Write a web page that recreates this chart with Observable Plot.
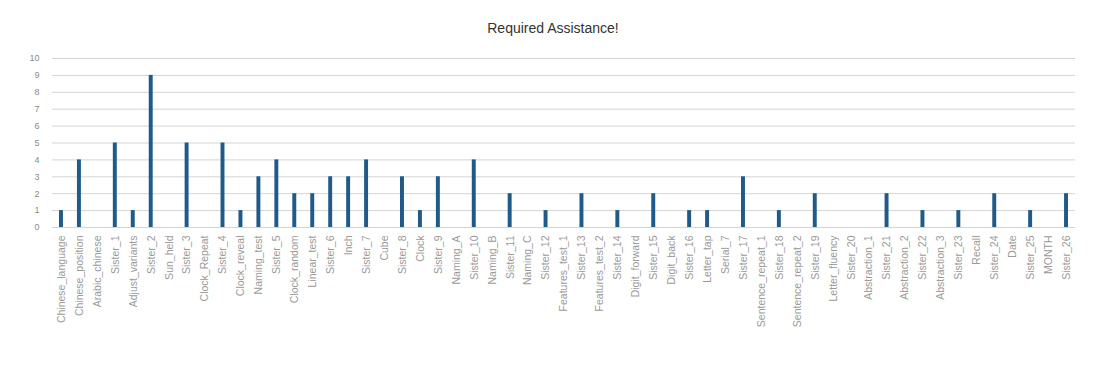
<!DOCTYPE html>
<html>
<head>
<meta charset="utf-8">
<script src="https://cdn.jsdelivr.net/npm/d3@7"></script>
<script src="https://cdn.jsdelivr.net/npm/@observablehq/plot@0.6"></script>
<style>
  body { margin: 0; background: #fff; font-family: "Liberation Sans", Arial, sans-serif; }
  #title { height: 45px; line-height: 56px; text-align: center; font-size: 14px; color: #333; width: 1106px; }
</style>
</head>
<body>
<div id="title">Required Assistance!</div>
<div id="chart"></div>
<script>
const categories = [
  "Chinese_language", "Chinese_position", "Arabic_chinese", "Sister_1", "Adjust_variants",
  "Sister_2", "Sun_held", "Sister_3", "Clock_Repeat", "Sister_4",
  "Clock_reveal", "Naming_test", "Sister_5", "Clock_random", "Linear_test",
  "Sister_6", "Inch", "Sister_7", "Cube", "Sister_8",
  "Clock", "Sister_9", "Naming_A", "Sister_10", "Naming_B",
  "Sister_11", "Naming_C", "Sister_12", "Features_test_1", "Sister_13",
  "Features_test_2", "Sister_14", "Digit_forward", "Sister_15", "Digit_back",
  "Sister_16", "Letter_tap", "Serial_7", "Sister_17", "Sentence_repeat_1",
  "Sister_18", "Sentence_repeat_2", "Sister_19", "Letter_fluency", "Sister_20",
  "Abstraction_1", "Sister_21", "Abstraction_2", "Sister_22", "Abstraction_3",
  "Sister_23", "Recall", "Sister_24", "Date", "Sister_25",
  "MONTH", "Sister_26"
];
const values = [
  1, 4, 0, 5, 1,
  9, 0, 5, 0, 5,
  1, 3, 4, 2, 2,
  3, 3, 4, 0, 3,
  1, 3, 0, 4, 0,
  2, 0, 1, 0, 2,
  0, 1, 0, 2, 0,
  1, 1, 0, 3, 0,
  1, 0, 2, 0, 0,
  0, 2, 0, 1, 0,
  1, 0, 2, 0, 1,
  0, 2
];
const yTicks = [0, 1, 2, 3, 4, 5, 6, 7, 8, 9, 10];

const data = categories.map((c, i) => ({ category: c, value: values[i] }));

const chart = Plot.plot({
  width: 1114,
  height: 337,
  marginTop: 13,
  marginBottom: 155,
  marginLeft: 52,
  marginRight: 39,
  style: { fontFamily: "Liberation Sans, Arial, sans-serif", color: "#999" },
  x: { domain: categories, paddingInner: 0.78, paddingOuter: 0.39, align: 0.5, label: null },
  y: { domain: [0, 10], ticks: yTicks, label: null },
  marks: [
    Plot.gridY(yTicks, { stroke: "#d4d4d4", strokeOpacity: 1 }),
    Plot.barY(data, { x: "category", y: "value", fill: "#1f5b8a" }),
    Plot.axisY(yTicks, { tickSize: 0, tickPadding: 13, fontSize: 9, fill: "#8a8a8a", label: null }),
    Plot.axisX({ tickSize: 0, tickPadding: 8, tickRotate: -90, fontSize: 10.5, fill: "#9a9a9a", label: null })
  ]
});
document.getElementById("chart").appendChild(chart);
</script>
</body>
</html>
